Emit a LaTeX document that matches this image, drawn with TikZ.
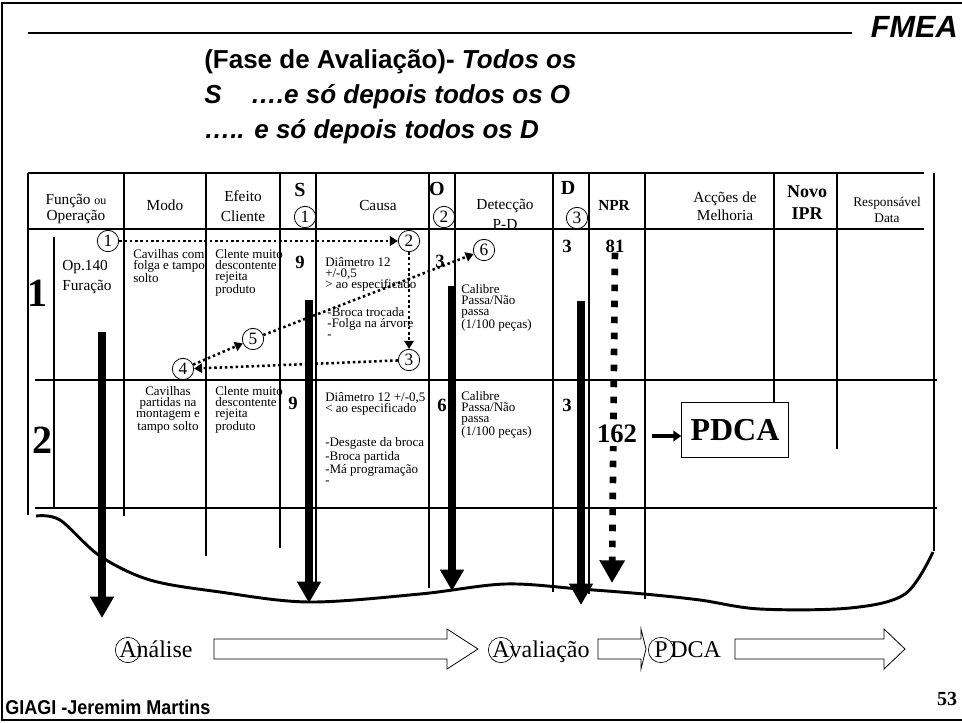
\documentclass[tikz,border=0pt]{standalone}
\usepackage{fontspec}
\setmainfont{Liberation Serif}
\newfontfamily\headsans{Liberation Sans}
\newfontfamily\footsans[FakeStretch=0.9]{Liberation Sans}
\usetikzlibrary{shapes,arrows,arrows.meta,positioning}

\begin{document}
\begin{tikzpicture}[x=0.75pt,y=-0.75pt,
  tabline/.style={line width=2.2pt},
  rowline/.style={line width=0.8pt},
  bigarrow/.style={line width=5.3pt,-{Triangle[width=17pt,length=16pt]}},
  dotarrow/.style={line width=1.9pt,dash pattern=on 1.9pt off 2.1pt,-{Triangle[width=7pt,length=6pt]}},
  nprarrow/.style={line width=5pt,dash pattern=on 5pt off 7pt,-{Triangle[width=18pt,length=17pt]}},
  ringstyle/.style={circle,draw,line width=0.6pt,inner sep=0pt,minimum size=16pt,font=\fontsize{13}{13}\selectfont},
  flowring/.style={circle,draw,line width=0.5pt,inner sep=-3pt,minimum size=19pt,font=\fontsize{18}{18}\selectfont},
  flowtext/.style={inner sep=0pt,font=\fontsize{18}{18}\selectfont},
  hollow/.style={draw,line width=0.6pt},
  headtext/.style={align=center,inner sep=0pt,font=\fontsize{11.5}{11.5}\selectfont},
  celltext/.style={align=left,inner sep=0pt,anchor=north west,font=\fontsize{9.75}{8.4}\selectfont},
  bignum/.style={inner sep=0pt,font=\fontsize{14}{14}\bfseries\selectfont},
  rownum/.style={inner sep=0pt,font=\fontsize{30}{30}\bfseries\selectfont}]
\useasboundingbox (0,0) rectangle (962,722);
% frame and title
\draw[line width=2.2pt] (962,3) -- (2,3) -- (2,720) -- (962,720);
\node[anchor=east,inner sep=0pt,font=\headsans\bfseries\itshape\fontsize{23}{23}\selectfont] (fmea) at (958,27) {FMEA};
\coordinate (rulestart) at (28,33);
\coordinate (ruleend) at (852,33);
\draw[line width=0.9pt] (rulestart) -- (ruleend);
\node[anchor=base west,inner sep=0pt,font=\headsans\bfseries\fontsize{19.5}{19.5}\selectfont] (title1) at (204,68) {(Fase de Avaliação)- \textit{Todos os}};
\node[anchor=base west,inner sep=0pt,font=\headsans\bfseries\itshape\fontsize{19.5}{19.5}\selectfont] (title2) at (204,103) {S\hspace{22pt}….e só depois todos os O};
\node[anchor=base west,inner sep=0pt,font=\headsans\bfseries\itshape\fontsize{19.5}{19.5}\selectfont] (title3) at (204,138) {….. e só depois todos os D};

% table lines
\draw[tabline] (28,173) -- (924,173);
\draw[tabline] (28,229) -- (924,229);
\draw[rowline] (35,380) -- (937,380);
\draw[rowline] (35,508) -- (937,508);
\draw[tabline] (28,173) -- (28,515);
\draw[line width=1.6pt] (54,237) -- (54,508);
\draw[tabline] (124,173) -- (124,516);
\draw[tabline] (206,173) -- (206,556);
\draw[tabline] (280,173) -- (280,548);
\draw[tabline] (316,173) -- (316,590);
\draw[tabline] (429,173) -- (429,588);
\draw[tabline] (455,173) -- (455,286);
\draw[tabline] (553,173) -- (553,592);
\draw[tabline] (589,173) -- (589,594);
\draw[tabline] (645,173) -- (645,599);
\draw[tabline] (774,173) -- (774,403);
\draw[tabline] (837,173) -- (837,449);
\draw[tabline] (934,173) -- (934,551);
\draw[tabline] plot[smooth,tension=0.55] coordinates {(36,516) (60,520) (100,556) (150,580) (220,592) (309,602) (420,594) (505,584) (580,589) (644,594) (700,600) (760,609) (850,608) (905,594) (933,552)};

% header
\node[headtext] (hfunc) at (76,209) {Função {\fontsize{9}{9}\selectfont ou}\\Operação};
\node[headtext] (hmodo) at (165,205) {Modo};
\node[headtext,font=\fontsize{11.5}{15}\selectfont] (hefeito) at (243,206) {Efeito\\Cliente};
\node[bignum,font=\fontsize{15}{15}\bfseries\selectfont] (hs) at (300,190) {S};
\node[ringstyle] (hsring) at (305,217) {1};
\node[headtext] (hcausa) at (378,205) {Causa};
\node[bignum,font=\fontsize{15}{15}\bfseries\selectfont] (ho) at (437,189) {O};
\node[ringstyle] (horing) at (444,217) {2};
\node[headtext,font=\fontsize{11.5}{15}\selectfont] (hdet) at (505,214) {Detecção\\P-D};
\node[bignum,font=\fontsize{15}{15}\bfseries\selectfont] (hd) at (568,188) {D};
\node[ringstyle] (hdring) at (577,218) {3};
\node[bignum,font=\fontsize{11.5}{11.5}\bfseries\selectfont] (hnpr) at (614,205) {NPR};
\node[headtext,font=\fontsize{11.5}{13.5}\selectfont] (hacc) at (725,206) {Acções de\\Melhoria};
\node[headtext,font=\fontsize{13.5}{16.5}\bfseries\selectfont] (hnovo) at (807,203) {Novo\\IPR};
\node[headtext,font=\fontsize{10}{12}\selectfont] (hresp) at (887,210) {Responsável\\Data};

% row 1
\node[rownum] (row1) at (37,293) {1};
\node[celltext,font=\fontsize{11.5}{15}\selectfont] (op1) at (62,260) {Op.140\\Furação};
\node[celltext] (modo1) at (133,249) {Cavilhas com\\folga e tampo\\solto};
\node[celltext] (efeito1) at (215,249) {Clente muito\\descontente\\rejeita\\produto};
\node[bignum] (s1) at (300,262) {9};
\node[celltext] (causa1) at (325,257) {Diâmetro 12\\+/-0,5\\> ao especificado\\[11pt]\,-Broca trocada\\\,-Folga na árvore\\\,-};
\node[bignum] (o1) at (440,261) {3};
\node[celltext] (det1) at (461,284) {Calibre\\Passa/Não\\passa\\(1/100 peças)};
\node[bignum] (d1) at (567,246) {3};
\node[bignum] (n81) at (615,246) {81};

% row 2
\node[rownum] (row2) at (42,440) {2};
\node[celltext,anchor=north,align=center] (modo2) at (168,386) {Cavilhas\\partidas na\\montagem e\\tampo solto};
\node[celltext] (efeito2) at (215,386) {Clente muito\\descontente\\rejeita\\produto};
\node[bignum] (s2) at (293,403) {9};
\node[celltext] (causa2) at (325,392) {Diâmetro 12 +/-0,5\\< ao especificado\\[16pt]-Desgaste da broca\\-Broca partida\\-Má programação\\-};
\node[bignum] (o2) at (442,405) {6};
\node[celltext] (det2) at (461,391) {Calibre\\Passa/Não\\passa\\(1/100 peças)};
\node[bignum] (d2) at (567,405) {3};

% vertical arrows
\coordinate (funcstart) at (102,332);
\coordinate (funcend) at (102,618);
\coordinate (sstart) at (309,300);
\coordinate (send) at (309,603);
\coordinate (ostart) at (452,286);
\coordinate (oend) at (452,591);
\coordinate (dstart) at (581,301);
\coordinate (dend) at (581,605);
\coordinate (nprend) at (612,583);
\draw[bigarrow] (funcstart) -- (funcend);
\draw[bigarrow] (sstart) -- (send);
\draw[bigarrow] (ostart) -- (oend);
\draw[bigarrow] (dstart) -- (dend);
\draw[nprarrow] (n81) -- (nprend);
\node[bignum,fill=white,inner sep=2pt,font=\fontsize{20}{20}\bfseries\selectfont] (n162) at (617,434) {162};
\node[draw,line width=0.6pt,fill=white,minimum width=80pt,minimum height=41pt,font=\fontsize{24}{24}\bfseries\selectfont] (pdca) at (735,430) {PDCA};
\coordinate (pdcastart) at (652,436);
\draw[line width=2.6pt,-{Triangle[width=8pt,length=6pt]}] (pdcastart) -- (pdca.west |- pdcastart);

% evaluation order
\node[ringstyle] (c1) at (108,241) {1};
\node[ringstyle] (c2) at (409,241) {2};
\node[ringstyle] (c3) at (409,360) {3};
\node[ringstyle] (c4) at (183,369) {4};
\node[ringstyle] (c5) at (253,339) {5};
\node[ringstyle] (c6) at (484,250) {6};
\draw[dotarrow] (c1) -- (c2);
\draw[dotarrow] (c2) -- (c3);
\draw[dotarrow] (c3) -- (c4);
\draw[dotarrow] (c4) -- (c5);
\draw[dotarrow] (c5) -- (c6);

% phases
\node[flowring] (fa1) at (128,650) {A};
\node[flowtext,base right=-3.5pt of fa1] (fanalise) {nálise};
\node[flowring] (fa2) at (501,650) {A};
\node[flowtext,base right=-3.5pt of fa2] (favaliacao) {valiação};
\node[flowring] (fp) at (661,650) {P};
\node[flowtext,base right=-3pt of fp] (fdca) {DCA};
\draw[hollow] (214,639) -- (447,639) -- (447,629) -- (478,649) -- (447,669) -- (447,659) -- (214,659) -- cycle;
\draw[hollow] (598,639) -- (641,639) -- (641,629) -- (646,649) -- (641,669) -- (641,659) -- (598,659) -- cycle;
\draw[hollow] (735,639) -- (884,639) -- (884,629) -- (905,649) -- (884,669) -- (884,659) -- (735,659) -- cycle;

% footer
\node[anchor=west,inner sep=0pt,font=\footsans\bfseries\fontsize{15}{15}\selectfont] (author) at (5,707) {GIAGI -Jeremim Martins};
\node[inner sep=0pt,font=\bfseries\fontsize{15}{15}\selectfont] (pagenum) at (947,699) {53};
\end{tikzpicture}
\end{document}
